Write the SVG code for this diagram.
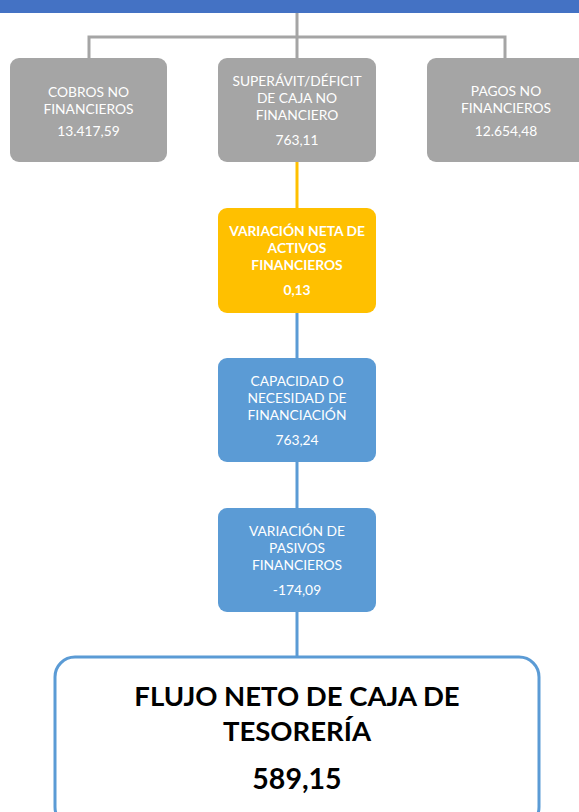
<svg xmlns="http://www.w3.org/2000/svg" width="579" height="812" viewBox="0 0 579 812">
<style>
.t{font-family:Lato,"Liberation Sans",sans-serif;font-size:13.8px;fill:#fff;text-anchor:middle}
.b{font-weight:bold}
.big{font-family:Lato,"Liberation Sans",sans-serif;font-weight:bold;fill:#000;text-anchor:middle}
.gc{stroke:#A5A5A5;stroke-width:3;fill:none}
.yc{stroke:#FFC000;stroke-width:3;fill:none}
.bc{stroke:#5B9BD5;stroke-width:3;fill:none}
</style>
<rect x="0" y="0" width="579" height="13" fill="#4472C4"/>
<g id="connectors">
<path class="gc" d="M297 13V58M89 58V37H505V58"/>
<path class="yc" d="M297 162V208"/>
<path class="bc" d="M297 313V358M297 462V508M297 612V657"/>
</g>
<g id="cobros">
<rect x="10" y="58" width="157" height="104" rx="9" fill="#A5A5A5"/>
<text class="t" x="88.5" y="97">COBROS NO</text>
<text class="t" x="88.5" y="114">FINANCIEROS</text>
<text class="t" x="88.5" y="136">13.417,59</text>
</g>
<g id="superavit">
<rect x="218" y="58" width="158" height="104" rx="9" fill="#A5A5A5"/>
<text class="t" x="297" y="86">SUPERÁVIT/DÉFICIT</text>
<text class="t" x="297" y="103">DE CAJA NO</text>
<text class="t" x="297" y="120">FINANCIERO</text>
<text class="t" x="297" y="145">763,11</text>
</g>
<g id="pagos">
<rect x="427" y="58" width="162" height="104" rx="9" fill="#A5A5A5"/>
<text class="t" x="506" y="96">PAGOS NO</text>
<text class="t" x="506" y="113">FINANCIEROS</text>
<text class="t" x="506" y="136">12.654,48</text>
</g>
<g id="activos">
<rect x="218" y="208" width="158" height="105" rx="9" fill="#FFC000"/>
<text class="t b" x="297" y="236">VARIACIÓN NETA DE</text>
<text class="t b" x="297" y="253">ACTIVOS</text>
<text class="t b" x="297" y="270">FINANCIEROS</text>
<text class="t b" x="297" y="295">0,13</text>
</g>
<g id="capacidad">
<rect x="218" y="358" width="158" height="104" rx="9" fill="#5B9BD5"/>
<text class="t" x="297" y="386">CAPACIDAD O</text>
<text class="t" x="297" y="403">NECESIDAD DE</text>
<text class="t" x="297" y="420">FINANCIACIÓN</text>
<text class="t" x="297" y="445">763,24</text>
</g>
<g id="pasivos">
<rect x="218" y="508" width="158" height="104" rx="9" fill="#5B9BD5"/>
<text class="t" x="297" y="536">VARIACIÓN DE</text>
<text class="t" x="297" y="553">PASIVOS</text>
<text class="t" x="297" y="570">FINANCIEROS</text>
<text class="t" x="297" y="595">-174,09</text>
</g>
<g id="flujo">
<rect x="55" y="657" width="484" height="170" rx="20" fill="#fff" stroke="#5B9BD5" stroke-width="3"/>
<text class="big" x="297" y="706" font-size="27.5">FLUJO NETO DE CAJA DE</text>
<text class="big" x="297" y="741" font-size="27.5">TESORERÍA</text>
<text class="big" x="297" y="789" font-size="28.5">589,15</text>
</g>
</svg>
